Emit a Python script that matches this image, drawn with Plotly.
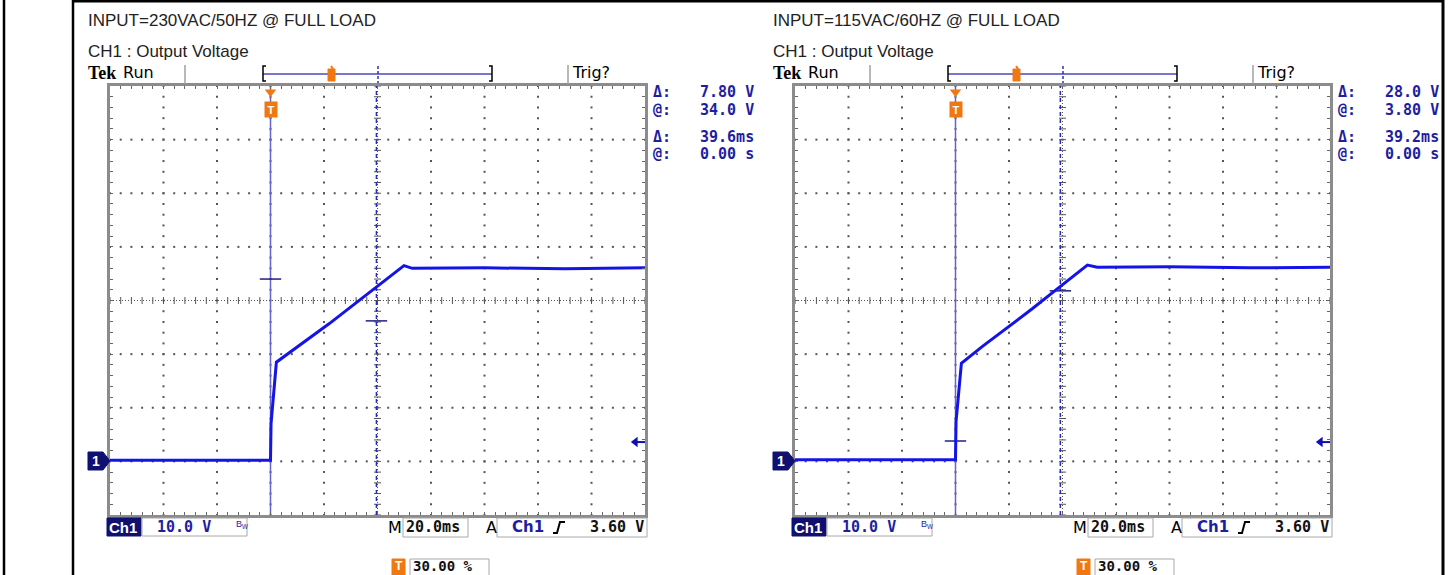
import numpy as np
import plotly.graph_objects as go

W, H = 1449, 575

titles = ["INPUT=230VAC/50HZ @ FULL LOAD", "INPUT=115VAC/60HZ @ FULL LOAD"]
subtitle = "CH1 : Output Voltage"

# CH1 trace (time in ms, volts)
t_230 = [-60, 0.0, 0.2, 0.7, 1.6, 2.2, 22.0, 39.4, 46.8, 49.9, 53.0, 80.0, 110.0, 140.0]
v_230 = [0.2, 0.2, 7.0, 10.0, 15.5, 18.5, 25.7, 32.4, 35.2, 36.5, 36.0, 36.1, 35.9, 36.1]
t_115 = [-60, 0.0, 0.2, 0.7, 1.7, 2.2, 10.2, 28.8, 39.1, 49.3, 53.0, 80.0, 110.0, 140.0]
v_115 = [0.3, 0.3, 7.4, 10.2, 15.7, 18.3, 21.5, 28.5, 32.6, 36.6, 36.2, 36.3, 36.1, 36.2]

# cursor positions: (time of vertical cursor, voltage of horizontal cursor)
cursor_t_230 = [0.0, 39.6]
cursor_v_230 = [34.0, 26.2]
cursor_t_115 = [0.0, 39.2]
cursor_v_115 = [3.8, 31.8]

readout_230 = ["7.80 V", "34.0 V", "39.6ms", "0.00 s"]
readout_115 = ["28.0 V", "3.80 V", "39.2ms", "0.00 s"]

trig_level = [3.6, 3.6]
volts_div = "10.0 V"
time_div = "20.0ms"
trig_text = "3.60 V"
trig_pos = "30.00 %"

T_RANGE = [-60, 140]
V_RANGE = [-10, 70]

panels = [
    dict(t=t_230, v=v_230, ct=cursor_t_230, cv=cursor_v_230, ro=readout_230, title=titles[0]),
    dict(t=t_115, v=v_115, ct=cursor_t_115, cv=cursor_v_115, ro=readout_115, title=titles[1]),
]

SANS = "Liberation Sans, Arial, sans-serif"
MONO = "DejaVu Sans Mono, monospace"
TEK_BLUE = "#1e1ea0"
WAVE = "#1414e6"
ORANGE = "#f07810"
GRID = "#555555"


def px(x):
    return x / W


def py(y):
    return 1 - y / H


fig = go.Figure()
shapes = []
annotations = []


def label(x, y, text, size=15, color="black", family=MONO, xanchor="left", **kw):
    annotations.append(dict(
        x=px(x), y=py(y), xref="paper", yref="paper", text=text, showarrow=False,
        xanchor=xanchor, yanchor="middle", font=dict(size=size, color=color, family=family), **kw
    ))


def rect(x0, y0, x1, y1, line="#a8a8a8", fill=None, width=1):
    shapes.append(dict(type="rect", xref="paper", yref="paper", x0=px(x0), x1=px(x1),
                       y0=py(y1), y1=py(y0), line=dict(color=line, width=width),
                       fillcolor=fill, layer="above"))


def seg(x0, y0, x1, y1, color="black", width=1, dash="solid"):
    shapes.append(dict(type="line", xref="paper", yref="paper", x0=px(x0), x1=px(x1),
                       y0=py(y0), y1=py(y1), line=dict(color=color, width=width, dash=dash)))


def path(points, color, fill=None, width=1):
    d = "M " + " L ".join(f"{px(a):.5f},{py(b):.5f}" for a, b in points)
    if fill:
        d += " Z"
    shapes.append(dict(type="path", xref="paper", yref="paper", path=d,
                       line=dict(color=color, width=width), fillcolor=fill, layer="above"))


# graticule points (5 per division)
major_t = np.arange(-40, 140, 20)
major_v = np.arange(0, 70, 10)
minor_t = np.arange(-60, 140.1, 4)
minor_v = np.arange(-10, 70.1, 2)

for i, p in enumerate(panels):
    dx = 685 * i
    xa = "x" if i == 0 else "x2"
    ya = "y" if i == 0 else "y2"

    gt, gv = [], []
    for t in major_t:
        if t == 40:
            continue
        gt += [t] * len(minor_v)
        gv += list(minor_v)
    for v in major_v:
        if v == 30:
            continue
        gt += list(minor_t)
        gv += [v] * len(minor_t)
    fig.add_trace(go.Scatter(x=gt, y=gv, mode="markers", xaxis=xa, yaxis=ya,
                             marker=dict(symbol="square", size=2, color=GRID, line_width=0),
                             hoverinfo="skip", showlegend=False))
    # centre cross
    fig.add_trace(go.Scatter(x=T_RANGE, y=[30, 30], mode="lines", xaxis=xa, yaxis=ya,
                             line=dict(color=GRID, width=1, dash="1px,2px"),
                             hoverinfo="skip", showlegend=False))
    fig.add_trace(go.Scatter(x=[40, 40], y=V_RANGE, mode="lines", xaxis=xa, yaxis=ya,
                             line=dict(color=GRID, width=1, dash="1px,2px"),
                             hoverinfo="skip", showlegend=False))
    fig.add_trace(go.Scatter(x=minor_t, y=[30] * len(minor_t), mode="markers", xaxis=xa, yaxis=ya,
                             marker=dict(symbol="line-ns", size=5, line=dict(color=GRID, width=1)),
                             hoverinfo="skip", showlegend=False))
    fig.add_trace(go.Scatter(x=[40] * len(minor_v), y=minor_v, mode="markers", xaxis=xa, yaxis=ya,
                             marker=dict(symbol="line-ew", size=5, line=dict(color=GRID, width=1)),
                             hoverinfo="skip", showlegend=False))

    # vertical cursors
    fig.add_trace(go.Scatter(x=[p["ct"][0]] * 2, y=V_RANGE, mode="lines", xaxis=xa, yaxis=ya,
                             line=dict(color="#6464cc", width=1.5),
                             hoverinfo="skip", showlegend=False))
    fig.add_trace(go.Scatter(x=[p["ct"][1]] * 2, y=V_RANGE, mode="lines", xaxis=xa, yaxis=ya,
                             line=dict(color="#2a2ab4", width=1.5, dash="4px,3px"),
                             hoverinfo="skip", showlegend=False))
    # horizontal cursor bars
    hx, hy = [], []
    for t, v in zip(p["ct"], p["cv"]):
        hx += [t - 4, t + 4, None]
        hy += [v, v, None]
    fig.add_trace(go.Scatter(x=hx, y=hy, mode="lines", xaxis=xa, yaxis=ya,
                             line=dict(color="#202080", width=1.5),
                             hoverinfo="skip", showlegend=False))

    # waveform
    fig.add_trace(go.Scatter(x=p["t"], y=p["v"], mode="lines", xaxis=xa, yaxis=ya,
                             line=dict(color=WAVE, width=3),
                             hoverinfo="skip", showlegend=False))

    # trigger level arrow
    fig.add_trace(go.Scatter(x=[136.6, 140], y=trig_level, mode="lines", xaxis=xa, yaxis=ya,
                             line=dict(color="#1010b0", width=2),
                             hoverinfo="skip", showlegend=False))
    fig.add_trace(go.Scatter(x=[136.4], y=trig_level[:1], mode="markers", xaxis=xa, yaxis=ya,
                             marker=dict(symbol="triangle-left", size=9, color="#1010b0"),
                             hoverinfo="skip", showlegend=False))
    # trigger position marker on top of graticule
    fig.add_trace(go.Scatter(x=[0], y=[68.9], mode="markers", xaxis=xa, yaxis=ya,
                             marker=dict(symbol="triangle-down", size=10, color=ORANGE),
                             hoverinfo="skip", showlegend=False, cliponaxis=False))
    annotations.append(dict(x=0, y=py(101), xref=xa, yref="paper", text="<b>T</b>",
                            showarrow=False, bgcolor=ORANGE, borderpad=0, width=12, height=15,
                            font=dict(size=11, color="white", family=SANS)))

    # header texts
    label(86 + dx, 20, p["title"], size=17, color="#222", family=SANS)
    label(86 + dx, 52, subtitle, size=17, color="#222", family=SANS)
    label(86 + dx, 73, "<b>Tek</b>", size=18, family="Liberation Serif, serif")
    label(121 + dx, 73, "Run", size=16, family="DejaVu Sans, sans-serif")
    label(570 + dx, 73, "Trig?", size=16, family="DejaVu Sans, sans-serif")
    seg(185 + dx, 65, 185 + dx, 84, color="#a0a0a0", width=1.5)
    seg(568 + dx, 65, 568 + dx, 84, color="#a0a0a0", width=1.5)
    # record view bar
    seg(263 + dx, 74, 492 + dx, 74, color="#4a4ac0", width=1.5)
    path([(266 + dx, 66), (263 + dx, 66), (263 + dx, 81), (266 + dx, 81)], "black", width=1.5)
    path([(489 + dx, 66), (492 + dx, 66), (492 + dx, 81), (489 + dx, 81)], "black", width=1.5)
    rect(328 + dx, 69, 335 + dx, 81, line=ORANGE, fill=ORANGE)
    seg(331 + dx, 66, 333 + dx, 69, color=ORANGE, width=2)
    seg(378 + dx, 66, 378 + dx, 83, color="#3030b0", width=1.5, dash="3px,2px")

    # cursor readouts
    for j, (yy, sym) in enumerate(zip([92, 110, 137, 154], ["Δ:", "@:", "Δ:", "@:"])):
        label(651 + dx, yy, f"<b>{sym}</b>", size=15, color=TEK_BLUE)
        label(756 + dx, yy, f"<b>{p['ro'][j]}</b>", size=15, color=TEK_BLUE, xanchor="right")

    # ground marker of channel 1
    path([(88 + dx, 452), (103 + dx, 452), (110 + dx, 461), (103 + dx, 470), (88 + dx, 470)],
         "#101070", fill="#101070")
    label(90 + dx, 461, "<b>1</b>", size=14, color="white", family=SANS)

    # bottom status line
    rect(107 + dx, 518, 141 + dx, 536, line="#101070", fill="#101070")
    label(107 + dx, 527, "<b>Ch1</b>", size=15, color="white", family=SANS)
    rect(142 + dx, 518, 247 + dx, 536)
    label(213 + dx, 527, f"<b>{volts_div}</b>", size=15, color=TEK_BLUE, xanchor="right")
    label(234 + dx, 524, "B<sub>W</sub>", size=9, color=TEK_BLUE, family=SANS)
    label(386 + dx, 527, "M", size=16, family="DejaVu Sans, sans-serif")
    rect(403 + dx, 518, 468 + dx, 537)
    label(404 + dx, 527, f"<b>{time_div}</b>", size=15, color="#111")
    label(484 + dx, 527, "A", size=16, family="DejaVu Sans, sans-serif")
    rect(497 + dx, 518, 647 + dx, 537)
    label(510 + dx, 527, f"<b>Ch1</b>", size=15, color=TEK_BLUE, family="DejaVu Sans, sans-serif")
    path([(553 + dx, 533), (557 + dx, 533), (560 + dx, 522), (565 + dx, 522)], "black", width=2)
    label(646 + dx, 527, f"<b>{trig_text}</b>", size=15, color="#111", xanchor="right")
    rect(392 + dx, 559, 405 + dx, 576, line=ORANGE, fill=ORANGE)
    label(393 + dx, 566, "<b>T</b>", size=12, color="white", family=SANS)
    rect(410 + dx, 559, 489 + dx, 577)
    label(411 + dx, 566, f"<b>{trig_pos}</b>", size=14, color="#111")

# page frame lines
seg(4, 0, 4, 575, color="black", width=2.5)
seg(73, 0, 73, 575, color="black", width=2.5)
seg(73, 1, 1444, 1, color="black", width=3)
seg(1443, 0, 1443, 575, color="black", width=3)

axis_common = dict(showgrid=False, zeroline=False, showticklabels=False, ticks="inside",
                   ticklen=3, tickwidth=1, tickcolor="#666", showline=True, linecolor="#8c8c8c",
                   linewidth=3, mirror="ticks", fixedrange=True)

ydom = [py(515), py(86)]
fig.update_layout(
    width=W, height=H,
    margin=dict(l=0, r=0, t=0, b=0),
    paper_bgcolor="white", plot_bgcolor="white",
    showlegend=False,
    xaxis=dict(domain=[px(110), px(645)], range=T_RANGE, tick0=-60, dtick=4, anchor="y", **axis_common),
    yaxis=dict(domain=ydom, range=V_RANGE, tick0=-10, dtick=2, anchor="x", **axis_common),
    xaxis2=dict(domain=[px(795), px(1330)], range=T_RANGE, tick0=-60, dtick=4, anchor="y2", **axis_common),
    yaxis2=dict(domain=ydom, range=V_RANGE, tick0=-10, dtick=2, anchor="x2", **axis_common),
    shapes=shapes,
    annotations=annotations,
)

fig.write_html(
    "out.html",
    config={"displayModeBar": False},
    post_script="document.body.style.margin='0';document.body.style.overflow='hidden';",
)
